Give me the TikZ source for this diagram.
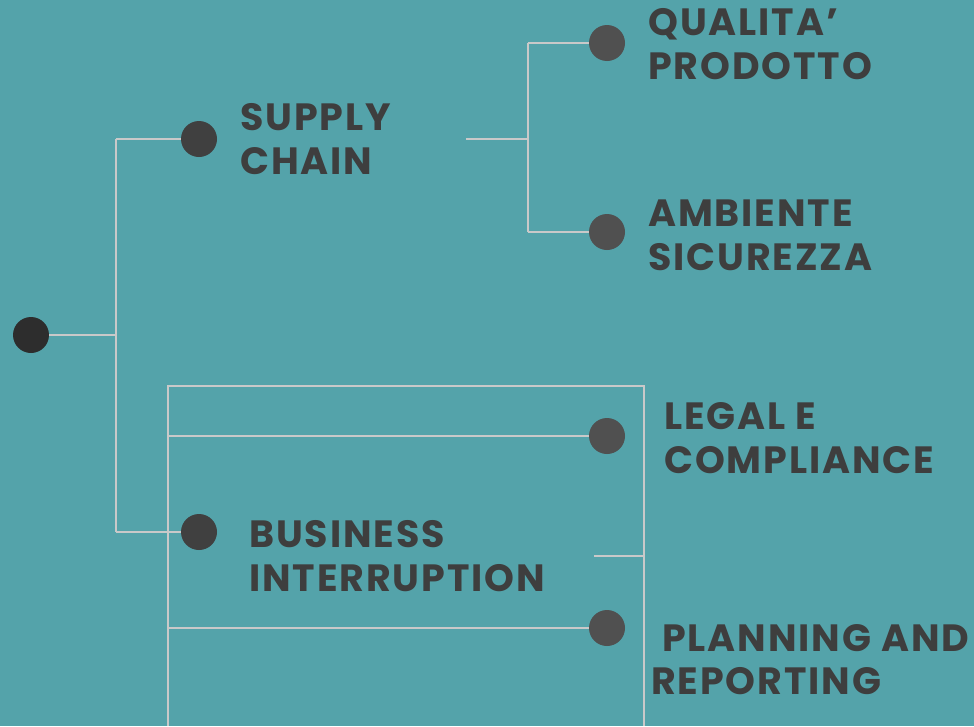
\documentclass[tikz,border=0pt]{standalone}
\usepackage{fontspec}
\setmainfont{Poppins}[LetterSpace=5]
\definecolor{bgteal}{HTML}{54A3AA}
\definecolor{wire}{HTML}{C9C9C9}
\definecolor{inkdark}{HTML}{3E3E3E}
\definecolor{dotroot}{HTML}{2D2D2D}
\definecolor{dotmid}{HTML}{404040}
\definecolor{dotleaf}{HTML}{505050}
\begin{document}
\begin{tikzpicture}[x=1pt,y=-1pt,
  wireline/.style={draw=wire,line width=2pt},
  dot/.style={circle,inner sep=0pt,minimum size=36pt},
  lbl/.style={anchor=north west,inner sep=0pt,align=left,text=inkdark,
    font=\fontsize{38}{44}\selectfont\bfseries}]
\fill[bgteal] (0,0) rectangle (974,726);
\useasboundingbox (0,0) rectangle (974,726);

% junction points of the tree
\coordinate (j0) at (116,335);
\coordinate (jsa) at (116,139);
\coordinate (jsb) at (116,532);
\coordinate (scout) at (466,139);
\coordinate (jq) at (528,139);
\coordinate (jqa) at (528,43);
\coordinate (jqb) at (528,232);
\coordinate (fa) at (168,726);
\coordinate (fb) at (168,386);
\coordinate (fc) at (644,386);
\coordinate (fd) at (644,726);
\coordinate (fl) at (168,436);
\coordinate (fp) at (168,628);
\coordinate (biout) at (594,556);
\coordinate (fr) at (644,556);

% wires
\draw[wireline] (jsa) -- (jsb);
\draw[wireline] (jqa) -- (jqb);
\draw[wireline] (fa) -- (fb) -- (fc) -- (fd);
\draw[wireline] (scout) -- (jq);
\draw[wireline] (biout) -- (fr);

% dots
\node[dot,fill=dotroot] (root) at (31,335) {};
\node[dot,fill=dotmid] (sc) at (199,139) {};
\node[dot,fill=dotmid] (bi) at (199,532) {};
\node[dot,fill=dotleaf] (qp) at (607,43) {};
\node[dot,fill=dotleaf] (as) at (607,232) {};
\node[dot,fill=dotleaf] (lc) at (607,436) {};
\node[dot,fill=dotleaf] (pr) at (607,628) {};

\draw[wireline] (root) -- (j0);
\draw[wireline] (jsa) -- (sc);
\draw[wireline] (jsb) -- (bi);
\draw[wireline] (jqa) -- (qp);
\draw[wireline] (jqb) -- (as);
\draw[wireline] (fl) -- (lc);
\draw[wireline] (fp) -- (pr);

% labels
\node[lbl] (tsc) at (240,103) {SUPPLY\\CHAIN};
\node[lbl] (tbi) at (249,520) {BUSINESS\\INTERRUPTION};
\node[lbl] (tqp) at (648,8) {QUALITA’\\PRODOTTO};
\node[lbl] (tas) at (648,200) {AMBIENTE\\SICUREZZA};
\node[lbl] (tlc) at (664,402) {LEGAL E\\COMPLIANCE};
\node[lbl] (tpl) at (662,624) {PLANNING AND};
\node[lbl] (trp) at (651,667) {REPORTING};
\end{tikzpicture}
\end{document}
